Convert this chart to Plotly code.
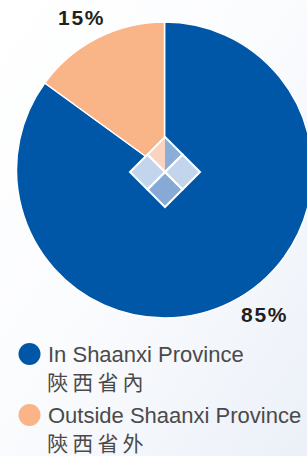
import base64
import plotly.graph_objects as go

# ---- data ----
labels = ["In Shaanxi Province", "Outside Shaanxi Province"]
labels_zh = ["陝西省內", "陝西省外"]
values = [85, 15]
colors = ["#0057a8", "#f9b487"]

W, H = 313, 456


def px(x):
    return x / W


def py(y):
    return 1 - y / H


cx, cy, R = 164.5, 170.0, 148.0

fig = go.Figure(
    go.Pie(
        labels=labels,
        values=values,
        sort=False,
        direction="clockwise",
        rotation=0,
        marker=dict(colors=colors, line=dict(color="white", width=1.5)),
        textinfo="none",
        hoverinfo="label+percent",
        showlegend=False,
        domain=dict(x=[px(cx - R), px(cx + R)], y=[py(cy + R), py(cy - R)]),
    )
)

# percentage labels
pct_pos = [(264, 314.5), (81, 17.5)]
annotations = []
for v, (x, y) in zip(values, pct_pos):
    annotations.append(dict(
        x=px(x), y=py(y), xref="paper", yref="paper", showarrow=False,
        text="<b>" + "\u200a".join(f"{v}%") + "</b>", xanchor="center", yanchor="middle",
        font=dict(family="Liberation Sans, Arial", size=21, color="#231f20"),
    ))

# custom legend
shapes = []
leg_y = [354, 415]
for i, (lab, zh, col) in enumerate(zip(labels, labels_zh, colors)):
    y0 = leg_y[i]
    shapes.append(dict(type="circle", xref="paper", yref="paper",
                       x0=px(18.5), x1=px(40.5), y0=py(y0 + 11), y1=py(y0 - 11),
                       fillcolor=col, line=dict(width=0)))
    annotations.append(dict(
        x=px(46), y=py(y0), xref="paper", yref="paper", showarrow=False,
        text=lab, xanchor="left", yanchor="middle",
        font=dict(family="Liberation Sans, Arial", size=22, color="#4a4a4a"),
    ))
    annotations.append(dict(
        x=px(46), y=py(y0 + 26.5), xref="paper", yref="paper", showarrow=False,
        text="\u2009".join(zh), xanchor="left", yanchor="middle", borderpad=0,
        font=dict(family="Noto Sans CJK TC", size=21, color="#4a4a4a"),
    ))

# central diamond decoration
dx, dy, h = 165.0, 172.0, 17.5


def path(pts):
    return "M " + " L ".join(f"{px(a)},{py(b)}" for a, b in pts) + " Z"


def square(qx, qy):
    return [(qx, qy - h), (qx + h, qy), (qx, qy + h), (qx - h, qy)]


deco = [
    ([(dx, dy - 2 * h), (dx, dy), (dx - h, dy - h)], "#fbd3bd"),
    ([(dx, dy - 2 * h), (dx + h, dy - h), (dx, dy)], "#8aaed8"),
    (square(dx - h, dy), "#c2d5ec"),
    (square(dx + h, dy), "#c2d5ec"),
    (square(dx, dy + h), "#86a9d6"),
]
for pts, col in deco:
    shapes.append(dict(type="path", xref="paper", yref="paper", path=path(pts),
                       fillcolor=col, line=dict(width=0)))
for q in [(dx, dy - h), (dx - h, dy), (dx + h, dy), (dx, dy + h)]:
    shapes.append(dict(type="path", xref="paper", yref="paper", path=path(square(*q)),
                       fillcolor="rgba(0,0,0,0)", line=dict(color="white", width=2)))

# background gradient
svg = (
    f'<svg xmlns="http://www.w3.org/2000/svg" width="{W}" height="{H}">'
    '<defs><linearGradient id="g" x1="0" y1="0" x2="1" y2="1">'
    '<stop offset="0" stop-color="#ffffff"/>'
    '<stop offset="0.45" stop-color="#fbfcfe"/>'
    '<stop offset="1" stop-color="#ebf0f8"/>'
    '</linearGradient></defs>'
    f'<rect width="{W}" height="{H}" fill="url(#g)"/></svg>'
)
src = "data:image/svg+xml;base64," + base64.b64encode(svg.encode()).decode()

fig.update_layout(
    width=W, height=H,
    margin=dict(l=0, r=0, t=0, b=0),
    paper_bgcolor="white",
    plot_bgcolor="white",
    shapes=shapes,
    annotations=annotations,
    images=[dict(source=src, xref="paper", yref="paper", x=0, y=1, sizex=1, sizey=1,
                 sizing="stretch", xanchor="left", yanchor="top", layer="below")],
)

fig.write_html(
    "out.html",
    config={"displayModeBar": False},
    post_script="document.body.style.margin='0';document.body.style.overflow='hidden';"
                "document.documentElement.style.overflow='hidden';",
)
